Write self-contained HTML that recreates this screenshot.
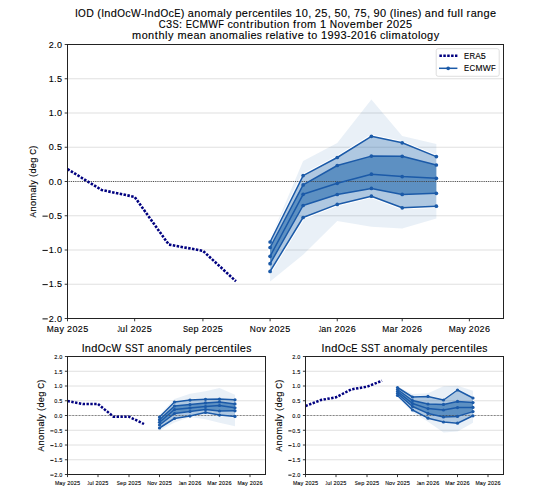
<!DOCTYPE html>
<html><head><meta charset="utf-8"><style>html,body{margin:0;padding:0;background:#fff;}svg{display:block;}</style></head><body>
<svg width="540" height="500" viewBox="0 0 540 500" font-family="Liberation Sans, sans-serif">
<rect width="540" height="500" fill="#fff"/>
<line x1="67.5" y1="78.75" x2="503.5" y2="78.75" stroke="#e0e0e0" stroke-width="1.2"/>
<line x1="67.5" y1="113.00" x2="503.5" y2="113.00" stroke="#e0e0e0" stroke-width="1.2"/>
<line x1="67.5" y1="147.25" x2="503.5" y2="147.25" stroke="#e0e0e0" stroke-width="1.2"/>
<line x1="67.5" y1="215.75" x2="503.5" y2="215.75" stroke="#e0e0e0" stroke-width="1.2"/>
<line x1="67.5" y1="250.00" x2="503.5" y2="250.00" stroke="#e0e0e0" stroke-width="1.2"/>
<line x1="67.5" y1="284.25" x2="503.5" y2="284.25" stroke="#e0e0e0" stroke-width="1.2"/>
<polygon points="270.09,239.50 303.12,161.00 337.25,143.00 371.38,99.40 402.21,136.10 436.34,143.90 436.34,218.40 402.21,228.40 371.38,226.70 337.25,220.90 303.12,254.80 270.09,281.50" fill="#1962aa" fill-opacity="0.095"/>
<mask id="m1" maskUnits="userSpaceOnUse" x="0" y="0" width="540" height="500"><rect width="540" height="500" fill="#fff"/><polygon points="270.09,242.00 303.12,175.60 337.25,157.50 371.38,136.30 402.21,142.80 436.34,156.60 436.34,206.20 402.21,207.80 371.38,196.20 337.25,204.40 303.12,217.50 270.09,271.40" fill="#000"/></mask>
<polygon points="270.09,242.00 303.12,175.60 337.25,157.50 371.38,136.30 402.21,142.80 436.34,156.60 436.34,206.20 402.21,207.80 371.38,196.20 337.25,204.40 303.12,217.50 270.09,271.40" fill="none" stroke="#fff" stroke-width="3.6" stroke-linejoin="round" mask="url(#m1)"/>
<polygon points="270.09,242.00 303.12,175.60 337.25,157.50 371.38,136.30 402.21,142.80 436.34,156.60 436.34,206.20 402.21,207.80 371.38,196.20 337.25,204.40 303.12,217.50 270.09,271.40" fill="#1962aa" fill-opacity="0.28"/>
<polygon points="270.09,247.50 303.12,184.90 337.25,165.50 371.38,156.10 402.21,156.30 436.34,165.00 436.34,193.30 402.21,194.40 371.38,188.40 337.25,194.50 303.12,205.50 270.09,263.70" fill="#1962aa" fill-opacity="0.55"/>
<line x1="67.5" y1="181.50" x2="503.5" y2="181.50" stroke="#444" stroke-width="1.0" stroke-dasharray="0.95 0.87"/>
<polyline points="270.09,242.00 303.12,175.60 337.25,157.50 371.38,136.30 402.21,142.80 436.34,156.60" fill="none" stroke="#1b5aa8" stroke-width="1.5" stroke-linejoin="round"/>
<circle cx="270.09" cy="242.00" r="1.85" fill="#1b5aa8"/>
<circle cx="303.12" cy="175.60" r="1.85" fill="#1b5aa8"/>
<circle cx="337.25" cy="157.50" r="1.85" fill="#1b5aa8"/>
<circle cx="371.38" cy="136.30" r="1.85" fill="#1b5aa8"/>
<circle cx="402.21" cy="142.80" r="1.85" fill="#1b5aa8"/>
<circle cx="436.34" cy="156.60" r="1.85" fill="#1b5aa8"/>
<polyline points="270.09,247.50 303.12,184.90 337.25,165.50 371.38,156.10 402.21,156.30 436.34,165.00" fill="none" stroke="#1b5aa8" stroke-width="1.5" stroke-linejoin="round"/>
<circle cx="270.09" cy="247.50" r="1.85" fill="#1b5aa8"/>
<circle cx="303.12" cy="184.90" r="1.85" fill="#1b5aa8"/>
<circle cx="337.25" cy="165.50" r="1.85" fill="#1b5aa8"/>
<circle cx="371.38" cy="156.10" r="1.85" fill="#1b5aa8"/>
<circle cx="402.21" cy="156.30" r="1.85" fill="#1b5aa8"/>
<circle cx="436.34" cy="165.00" r="1.85" fill="#1b5aa8"/>
<polyline points="270.09,256.30 303.12,194.30 337.25,183.30 371.38,174.20 402.21,176.60 436.34,178.30" fill="none" stroke="#1b5aa8" stroke-width="1.5" stroke-linejoin="round"/>
<circle cx="270.09" cy="256.30" r="1.85" fill="#1b5aa8"/>
<circle cx="303.12" cy="194.30" r="1.85" fill="#1b5aa8"/>
<circle cx="337.25" cy="183.30" r="1.85" fill="#1b5aa8"/>
<circle cx="371.38" cy="174.20" r="1.85" fill="#1b5aa8"/>
<circle cx="402.21" cy="176.60" r="1.85" fill="#1b5aa8"/>
<circle cx="436.34" cy="178.30" r="1.85" fill="#1b5aa8"/>
<polyline points="270.09,263.70 303.12,205.50 337.25,194.50 371.38,188.40 402.21,194.40 436.34,193.30" fill="none" stroke="#1b5aa8" stroke-width="1.5" stroke-linejoin="round"/>
<circle cx="270.09" cy="263.70" r="1.85" fill="#1b5aa8"/>
<circle cx="303.12" cy="205.50" r="1.85" fill="#1b5aa8"/>
<circle cx="337.25" cy="194.50" r="1.85" fill="#1b5aa8"/>
<circle cx="371.38" cy="188.40" r="1.85" fill="#1b5aa8"/>
<circle cx="402.21" cy="194.40" r="1.85" fill="#1b5aa8"/>
<circle cx="436.34" cy="193.30" r="1.85" fill="#1b5aa8"/>
<polyline points="270.09,271.40 303.12,217.50 337.25,204.40 371.38,196.20 402.21,207.80 436.34,206.20" fill="none" stroke="#1b5aa8" stroke-width="1.5" stroke-linejoin="round"/>
<circle cx="270.09" cy="271.40" r="1.85" fill="#1b5aa8"/>
<circle cx="303.12" cy="217.50" r="1.85" fill="#1b5aa8"/>
<circle cx="337.25" cy="204.40" r="1.85" fill="#1b5aa8"/>
<circle cx="371.38" cy="196.20" r="1.85" fill="#1b5aa8"/>
<circle cx="402.21" cy="207.80" r="1.85" fill="#1b5aa8"/>
<circle cx="436.34" cy="206.20" r="1.85" fill="#1b5aa8"/>
<polyline points="67.50,169.10 101.63,190.00 134.66,196.90 168.79,244.60 202.92,250.80 235.95,281.30" fill="none" stroke="#000080" stroke-width="2.6" stroke-dasharray="2.5 1.4" stroke-linejoin="round"/>
<rect x="67.5" y="44.5" width="436.0" height="274.0" fill="none" stroke="#222" stroke-width="1"/>
<line x1="64.7" y1="44.50" x2="67.5" y2="44.50" stroke="#222" stroke-width="0.9"/>
<text x="48.84 54.12 56.90" y="47.54" font-size="9.04" fill="#000" stroke="#000" stroke-width="0.12">2.0</text>
<line x1="64.7" y1="78.75" x2="67.5" y2="78.75" stroke="#222" stroke-width="0.9"/>
<text x="48.84 54.12 56.90" y="81.79" font-size="9.04" fill="#000" stroke="#000" stroke-width="0.12">1.5</text>
<line x1="64.7" y1="113.00" x2="67.5" y2="113.00" stroke="#222" stroke-width="0.9"/>
<text x="48.84 54.12 56.90" y="116.04" font-size="9.04" fill="#000" stroke="#000" stroke-width="0.12">1.0</text>
<line x1="64.7" y1="147.25" x2="67.5" y2="147.25" stroke="#222" stroke-width="0.9"/>
<text x="48.84 54.12 56.90" y="150.29" font-size="9.04" fill="#000" stroke="#000" stroke-width="0.12">0.5</text>
<line x1="64.7" y1="181.50" x2="67.5" y2="181.50" stroke="#222" stroke-width="0.9"/>
<text x="48.84 54.12 56.90" y="184.54" font-size="9.04" fill="#000" stroke="#000" stroke-width="0.12">0.0</text>
<line x1="64.7" y1="215.75" x2="67.5" y2="215.75" stroke="#222" stroke-width="0.9"/>
<rect x="42.48" y="215.66" width="5.28" height="0.95" fill="#000"/>
<text x="48.84 54.12 56.90" y="218.79" font-size="9.04" fill="#000" stroke="#000" stroke-width="0.12">0.5</text>
<line x1="64.7" y1="250.00" x2="67.5" y2="250.00" stroke="#222" stroke-width="0.9"/>
<rect x="42.48" y="249.91" width="5.28" height="0.95" fill="#000"/>
<text x="48.84 54.12 56.90" y="253.04" font-size="9.04" fill="#000" stroke="#000" stroke-width="0.12">1.0</text>
<line x1="64.7" y1="284.25" x2="67.5" y2="284.25" stroke="#222" stroke-width="0.9"/>
<rect x="42.48" y="284.16" width="5.28" height="0.95" fill="#000"/>
<text x="48.84 54.12 56.90" y="287.29" font-size="9.04" fill="#000" stroke="#000" stroke-width="0.12">1.5</text>
<line x1="64.7" y1="318.50" x2="67.5" y2="318.50" stroke="#222" stroke-width="0.9"/>
<rect x="42.48" y="318.41" width="5.28" height="0.95" fill="#000"/>
<text x="48.84 54.12 56.90" y="321.54" font-size="9.04" fill="#000" stroke="#000" stroke-width="0.12">2.0</text>
<line x1="67.50" y1="318.5" x2="67.50" y2="321.3" stroke="#222" stroke-width="0.9"/>
<text transform="translate(46.82 331.68) scale(0.929 1)" font-size="9.04" fill="#000" stroke="#000" stroke-width="0.12">M</text>
<text transform="translate(54.06 331.68) scale(0.989 1)" font-size="9.04" fill="#000" stroke="#000" stroke-width="0.12">a</text>
<text x="59.38 64.23 67.00 72.38 77.75 83.13" y="331.68" font-size="9.04" fill="#000" stroke="#000" stroke-width="0.12">y 2025</text>
<line x1="134.66" y1="318.5" x2="134.66" y2="321.3" stroke="#222" stroke-width="0.9"/>
<text transform="translate(117.52 331.68) scale(0.529 1)" font-size="9.04" fill="#000" stroke="#000" stroke-width="0.12">J</text>
<text x="120.12 125.49 127.75 130.52 135.90 141.28 146.65" y="331.68" font-size="9.04" fill="#000" stroke="#000" stroke-width="0.12">ul 2025</text>
<line x1="202.92" y1="318.5" x2="202.92" y2="321.3" stroke="#222" stroke-width="0.9"/>
<text transform="translate(182.97 331.68) scale(0.854 1)" font-size="9.04" fill="#000" stroke="#000" stroke-width="0.12">S</text>
<text transform="translate(188.33 331.68) scale(0.993 1)" font-size="9.04" fill="#000" stroke="#000" stroke-width="0.12">e</text>
<text x="193.60 198.88 201.65 207.03 212.40 217.78" y="331.68" font-size="9.04" fill="#000" stroke="#000" stroke-width="0.12">p 2025</text>
<line x1="270.09" y1="318.5" x2="270.09" y2="321.3" stroke="#222" stroke-width="0.9"/>
<text transform="translate(249.87 331.68) scale(0.929 1)" font-size="9.04" fill="#000" stroke="#000" stroke-width="0.12">N</text>
<text transform="translate(256.17 331.68) scale(0.987 1)" font-size="9.04" fill="#000" stroke="#000" stroke-width="0.12">o</text>
<text x="261.48 266.32 269.10 274.47 279.85 285.22" y="331.68" font-size="9.04" fill="#000" stroke="#000" stroke-width="0.12">v 2025</text>
<line x1="337.25" y1="318.5" x2="337.25" y2="321.3" stroke="#222" stroke-width="0.9"/>
<text transform="translate(318.69 331.68) scale(0.529 1)" font-size="9.04" fill="#000" stroke="#000" stroke-width="0.12">J</text>
<text transform="translate(321.23 331.68) scale(0.989 1)" font-size="9.04" fill="#000" stroke="#000" stroke-width="0.12">a</text>
<text x="326.47 331.75 334.52 339.90 345.28 350.65" y="331.68" font-size="9.04" fill="#000" stroke="#000" stroke-width="0.12">n 2026</text>
<line x1="402.21" y1="318.5" x2="402.21" y2="321.3" stroke="#222" stroke-width="0.9"/>
<text transform="translate(382.29 331.68) scale(0.929 1)" font-size="9.04" fill="#000" stroke="#000" stroke-width="0.12">M</text>
<text transform="translate(389.53 331.68) scale(0.989 1)" font-size="9.04" fill="#000" stroke="#000" stroke-width="0.12">a</text>
<text x="394.84 398.17 400.94 406.32 411.70 417.07" y="331.68" font-size="9.04" fill="#000" stroke="#000" stroke-width="0.12">r 2026</text>
<line x1="469.37" y1="318.5" x2="469.37" y2="321.3" stroke="#222" stroke-width="0.9"/>
<text transform="translate(448.68 331.68) scale(0.929 1)" font-size="9.04" fill="#000" stroke="#000" stroke-width="0.12">M</text>
<text transform="translate(455.93 331.68) scale(0.989 1)" font-size="9.04" fill="#000" stroke="#000" stroke-width="0.12">a</text>
<text x="461.25 466.10 468.87 474.24 479.62 485.00" y="331.68" font-size="9.04" fill="#000" stroke="#000" stroke-width="0.12">y 2026</text>
<text transform="translate(74.94 16.60) scale(0.952 1)" font-size="10.97" fill="#000" stroke="#000" stroke-width="0.12">I</text>
<text transform="translate(78.07 16.60) scale(0.908 1)" font-size="10.97" fill="#000" stroke="#000" stroke-width="0.12">O</text>
<text transform="translate(86.13 16.60) scale(0.957 1)" font-size="10.97" fill="#000" stroke="#000" stroke-width="0.12">D</text>
<text transform="translate(101.18 16.60) scale(0.952 1)" font-size="10.97" fill="#000" stroke="#000" stroke-width="0.12">I</text>
<text transform="translate(117.31 16.60) scale(0.908 1)" font-size="10.97" fill="#000" stroke="#000" stroke-width="0.12">O</text>
<text transform="translate(125.33 16.60) scale(0.987 1)" font-size="10.97" fill="#000" stroke="#000" stroke-width="0.12">c</text>
<text transform="translate(131.06 16.60) scale(0.940 1)" font-size="10.97" fill="#000" stroke="#000" stroke-width="0.12">W</text>
<text transform="translate(141.06 16.60) scale(0.972 1)" font-size="10.97" fill="#000" stroke="#000" stroke-width="0.12">-</text>
<text transform="translate(144.33 16.60) scale(0.952 1)" font-size="10.97" fill="#000" stroke="#000" stroke-width="0.12">I</text>
<text transform="translate(160.46 16.60) scale(0.908 1)" font-size="10.97" fill="#000" stroke="#000" stroke-width="0.12">O</text>
<text transform="translate(168.48 16.60) scale(0.987 1)" font-size="10.97" fill="#000" stroke="#000" stroke-width="0.12">c</text>
<text transform="translate(174.13 16.60) scale(0.850 1)" font-size="10.97" fill="#000" stroke="#000" stroke-width="0.12">E</text>
<text transform="translate(187.86 16.60) scale(0.989 1)" font-size="10.97" fill="#000" stroke="#000" stroke-width="0.12">a</text>
<text transform="translate(200.64 16.60) scale(0.987 1)" font-size="10.97" fill="#000" stroke="#000" stroke-width="0.12">o</text>
<text transform="translate(216.89 16.60) scale(0.989 1)" font-size="10.97" fill="#000" stroke="#000" stroke-width="0.12">a</text>
<text transform="translate(241.85 16.60) scale(0.993 1)" font-size="10.97" fill="#000" stroke="#000" stroke-width="0.12">e</text>
<text transform="translate(252.36 16.60) scale(0.987 1)" font-size="10.97" fill="#000" stroke="#000" stroke-width="0.12">c</text>
<text transform="translate(257.78 16.60) scale(0.993 1)" font-size="10.97" fill="#000" stroke="#000" stroke-width="0.12">e</text>
<text transform="translate(280.30 16.60) scale(0.993 1)" font-size="10.97" fill="#000" stroke="#000" stroke-width="0.12">e</text>
<text transform="translate(286.59 16.60) scale(0.935 1)" font-size="10.97" fill="#000" stroke="#000" stroke-width="0.12">s</text>
<text transform="translate(405.93 16.60) scale(0.993 1)" font-size="10.97" fill="#000" stroke="#000" stroke-width="0.12">e</text>
<text transform="translate(412.22 16.60) scale(0.935 1)" font-size="10.97" fill="#000" stroke="#000" stroke-width="0.12">s</text>
<text transform="translate(424.84 16.60) scale(0.989 1)" font-size="10.97" fill="#000" stroke="#000" stroke-width="0.12">a</text>
<text transform="translate(470.65 16.60) scale(0.989 1)" font-size="10.97" fill="#000" stroke="#000" stroke-width="0.12">a</text>
<text transform="translate(489.94 16.60) scale(0.993 1)" font-size="10.97" fill="#000" stroke="#000" stroke-width="0.12">e</text>
<text x="93.97 97.30 104.35 110.85 147.49 153.99 180.65 184.58 194.21 207.21 223.25 226.19 232.07 235.42 248.31 264.16 270.95 274.68 277.53 291.93 295.29 301.81 308.23 311.49 314.85 321.37 327.79 331.05 334.41 340.93 347.35 350.60 353.97 360.49 366.91 370.16 373.53 380.05 386.46 389.79 393.82 396.67 399.51 417.63 421.56 431.19 437.69 444.10 447.53 451.06 457.56 460.41 463.16 466.59 477.01 483.51" y="16.60" font-size="10.97" fill="#000" stroke="#000" stroke-width="0.12"> (ndnd) nmly prntil 10, 25, 50, 75, 90 (lin) nd full rng</text>
<text transform="translate(158.84 27.80) scale(0.867 1)" font-size="10.97" fill="#000" stroke="#000" stroke-width="0.12">C</text>
<text transform="translate(172.51 27.80) scale(0.854 1)" font-size="10.97" fill="#000" stroke="#000" stroke-width="0.12">S</text>
<text transform="translate(185.73 27.80) scale(0.850 1)" font-size="10.97" fill="#000" stroke="#000" stroke-width="0.12">E</text>
<text transform="translate(192.22 27.80) scale(0.867 1)" font-size="10.97" fill="#000" stroke="#000" stroke-width="0.12">C</text>
<text transform="translate(199.41 27.80) scale(0.929 1)" font-size="10.97" fill="#000" stroke="#000" stroke-width="0.12">M</text>
<text transform="translate(208.28 27.80) scale(0.940 1)" font-size="10.97" fill="#000" stroke="#000" stroke-width="0.12">W</text>
<text transform="translate(218.33 27.80) scale(0.845 1)" font-size="10.97" fill="#000" stroke="#000" stroke-width="0.12">F</text>
<text transform="translate(227.48 27.80) scale(0.987 1)" font-size="10.97" fill="#000" stroke="#000" stroke-width="0.12">c</text>
<text transform="translate(233.12 27.80) scale(0.987 1)" font-size="10.97" fill="#000" stroke="#000" stroke-width="0.12">o</text>
<text transform="translate(276.84 27.80) scale(0.987 1)" font-size="10.97" fill="#000" stroke="#000" stroke-width="0.12">o</text>
<text transform="translate(300.69 27.80) scale(0.987 1)" font-size="10.97" fill="#000" stroke="#000" stroke-width="0.12">o</text>
<text transform="translate(329.79 27.80) scale(0.929 1)" font-size="10.97" fill="#000" stroke="#000" stroke-width="0.12">N</text>
<text transform="translate(337.43 27.80) scale(0.987 1)" font-size="10.97" fill="#000" stroke="#000" stroke-width="0.12">o</text>
<text transform="translate(349.76 27.80) scale(0.993 1)" font-size="10.97" fill="#000" stroke="#000" stroke-width="0.12">e</text>
<text transform="translate(372.56 27.80) scale(0.993 1)" font-size="10.97" fill="#000" stroke="#000" stroke-width="0.12">e</text>
<text x="166.07 179.09 182.44 224.21 239.47 246.25 250.07 254.20 257.05 263.55 270.34 274.07 283.19 289.59 293.02 296.63 307.04 316.70 320.06 326.48 343.86 356.37 366.13 379.02 383.06 386.42 392.95 399.47 405.99" y="27.80" font-size="10.97" fill="#000" stroke="#000" stroke-width="0.12">3:  ntributin frm 1 vmbr 2025</text>
<text transform="translate(141.68 39.00) scale(0.987 1)" font-size="10.97" fill="#000" stroke="#000" stroke-width="0.12">o</text>
<text transform="translate(187.12 39.00) scale(0.993 1)" font-size="10.97" fill="#000" stroke="#000" stroke-width="0.12">e</text>
<text transform="translate(193.43 39.00) scale(0.989 1)" font-size="10.97" fill="#000" stroke="#000" stroke-width="0.12">a</text>
<text transform="translate(209.46 39.00) scale(0.989 1)" font-size="10.97" fill="#000" stroke="#000" stroke-width="0.12">a</text>
<text transform="translate(222.24 39.00) scale(0.987 1)" font-size="10.97" fill="#000" stroke="#000" stroke-width="0.12">o</text>
<text transform="translate(238.50 39.00) scale(0.989 1)" font-size="10.97" fill="#000" stroke="#000" stroke-width="0.12">a</text>
<text transform="translate(250.47 39.00) scale(0.993 1)" font-size="10.97" fill="#000" stroke="#000" stroke-width="0.12">e</text>
<text transform="translate(256.76 39.00) scale(0.935 1)" font-size="10.97" fill="#000" stroke="#000" stroke-width="0.12">s</text>
<text transform="translate(269.59 39.00) scale(0.993 1)" font-size="10.97" fill="#000" stroke="#000" stroke-width="0.12">e</text>
<text transform="translate(278.52 39.00) scale(0.989 1)" font-size="10.97" fill="#000" stroke="#000" stroke-width="0.12">a</text>
<text transform="translate(297.74 39.00) scale(0.993 1)" font-size="10.97" fill="#000" stroke="#000" stroke-width="0.12">e</text>
<text transform="translate(311.32 39.00) scale(0.987 1)" font-size="10.97" fill="#000" stroke="#000" stroke-width="0.12">o</text>
<text transform="translate(346.88 39.00) scale(0.972 1)" font-size="10.97" fill="#000" stroke="#000" stroke-width="0.12">-</text>
<text transform="translate(379.96 39.00) scale(0.987 1)" font-size="10.97" fill="#000" stroke="#000" stroke-width="0.12">c</text>
<text transform="translate(401.29 39.00) scale(0.989 1)" font-size="10.97" fill="#000" stroke="#000" stroke-width="0.12">a</text>
<text transform="translate(411.59 39.00) scale(0.987 1)" font-size="10.97" fill="#000" stroke="#000" stroke-width="0.12">o</text>
<text transform="translate(420.71 39.00) scale(0.987 1)" font-size="10.97" fill="#000" stroke="#000" stroke-width="0.12">o</text>
<text x="132.00 148.03 154.81 158.54 165.04 167.98 173.86 177.44 199.78 206.19 215.82 228.81 244.86 247.71 262.10 265.53 275.75 285.16 288.90 291.83 304.02 307.66 317.57 320.93 327.45 333.98 340.50 350.72 357.24 363.76 370.28 376.70 385.69 388.54 391.61 407.93 417.94 427.06 433.65" y="39.00" font-size="10.97" fill="#000" stroke="#000" stroke-width="0.12">mnthly mn nmli rltiv t 19932016 limtlgy</text>
<g transform="rotate(-90 35.7 181.5)"><text transform="translate(-0.24 181.50) scale(0.920 1)" font-size="9.20" fill="#000" stroke="#000" stroke-width="0.12">A</text><text transform="translate(11.08 181.50) scale(0.987 1)" font-size="9.20" fill="#000" stroke="#000" stroke-width="0.12">o</text><text transform="translate(24.72 181.50) scale(0.989 1)" font-size="9.20" fill="#000" stroke="#000" stroke-width="0.12">a</text><text transform="translate(49.02 181.50) scale(0.993 1)" font-size="9.20" fill="#000" stroke="#000" stroke-width="0.12">e</text><text transform="translate(62.52 181.50) scale(0.867 1)" font-size="9.20" fill="#000" stroke="#000" stroke-width="0.12">C</text><text x="5.69 16.59 30.06 32.52 37.45 40.24 43.62 54.37 59.75 68.55" y="181.50" font-size="9.20" fill="#000" stroke="#000" stroke-width="0.12">nmly (dg )</text></g>
<rect x="436.2" y="48.7" width="63" height="27.6" rx="2" ry="2" fill="#fff" fill-opacity="0.8" stroke="#d6d6d6" stroke-width="0.8"/>
<line x1="439.4" y1="55.8" x2="457.4" y2="55.8" stroke="#000080" stroke-width="2.6" stroke-dasharray="2.5 1.4"/>
<line x1="439.0" y1="68.3" x2="457.4" y2="68.3" stroke="#1b5aa8" stroke-width="1.5"/>
<circle cx="448.2" cy="68.3" r="1.85" fill="#1b5aa8"/>
<text transform="translate(464.11 58.50) scale(0.850 1)" font-size="9.04" fill="#000" stroke="#000" stroke-width="0.12">E</text>
<text transform="translate(469.46 58.50) scale(0.863 1)" font-size="9.04" fill="#000" stroke="#000" stroke-width="0.12">R</text>
<text transform="translate(475.33 58.50) scale(0.920 1)" font-size="9.04" fill="#000" stroke="#000" stroke-width="0.12">A</text>
<text x="480.82" y="58.50" font-size="9.04" fill="#000" stroke="#000" stroke-width="0.12">5</text>
<text transform="translate(464.11 71.10) scale(0.850 1)" font-size="9.04" fill="#000" stroke="#000" stroke-width="0.12">E</text>
<text transform="translate(469.46 71.10) scale(0.867 1)" font-size="9.04" fill="#000" stroke="#000" stroke-width="0.12">C</text>
<text transform="translate(475.39 71.10) scale(0.929 1)" font-size="9.04" fill="#000" stroke="#000" stroke-width="0.12">M</text>
<text transform="translate(482.70 71.10) scale(0.940 1)" font-size="9.04" fill="#000" stroke="#000" stroke-width="0.12">W</text>
<text transform="translate(490.98 71.10) scale(0.845 1)" font-size="9.04" fill="#000" stroke="#000" stroke-width="0.12">F</text>
<line x1="67.5" y1="371.25" x2="265.5" y2="371.25" stroke="#e0e0e0" stroke-width="1.0"/>
<line x1="67.5" y1="386.00" x2="265.5" y2="386.00" stroke="#e0e0e0" stroke-width="1.0"/>
<line x1="67.5" y1="400.75" x2="265.5" y2="400.75" stroke="#e0e0e0" stroke-width="1.0"/>
<line x1="67.5" y1="430.25" x2="265.5" y2="430.25" stroke="#e0e0e0" stroke-width="1.0"/>
<line x1="67.5" y1="445.00" x2="265.5" y2="445.00" stroke="#e0e0e0" stroke-width="1.0"/>
<line x1="67.5" y1="459.75" x2="265.5" y2="459.75" stroke="#e0e0e0" stroke-width="1.0"/>
<polygon points="159.50,415.00 174.50,399.00 190.00,393.70 205.50,391.20 219.50,388.10 235.00,394.70 235.00,426.30 219.50,422.70 205.50,419.20 190.00,417.10 174.50,422.50 159.50,430.50" fill="#1962aa" fill-opacity="0.095"/>
<mask id="m2" maskUnits="userSpaceOnUse" x="0" y="0" width="540" height="500"><rect width="540" height="500" fill="#fff"/><polygon points="159.50,417.00 174.50,402.00 190.00,400.10 205.50,399.30 219.50,399.10 235.00,399.80 235.00,416.40 219.50,415.10 205.50,412.50 190.00,416.10 174.50,418.50 159.50,428.00" fill="#000"/></mask>
<polygon points="159.50,417.00 174.50,402.00 190.00,400.10 205.50,399.30 219.50,399.10 235.00,399.80 235.00,416.40 219.50,415.10 205.50,412.50 190.00,416.10 174.50,418.50 159.50,428.00" fill="none" stroke="#fff" stroke-width="2.2" stroke-linejoin="round" mask="url(#m2)"/>
<polygon points="159.50,417.00 174.50,402.00 190.00,400.10 205.50,399.30 219.50,399.10 235.00,399.80 235.00,416.40 219.50,415.10 205.50,412.50 190.00,416.10 174.50,418.50 159.50,428.00" fill="#1962aa" fill-opacity="0.28"/>
<polygon points="159.50,419.70 174.50,406.00 190.00,404.60 205.50,402.90 219.50,401.90 235.00,403.90 235.00,410.80 219.50,411.00 205.50,409.50 190.00,411.50 174.50,413.50 159.50,425.00" fill="#1962aa" fill-opacity="0.55"/>
<line x1="67.5" y1="415.50" x2="265.5" y2="415.50" stroke="#333" stroke-width="0.8" stroke-dasharray="0.75 0.7"/>
<polyline points="159.50,417.00 174.50,402.00 190.00,400.10 205.50,399.30 219.50,399.10 235.00,399.80" fill="none" stroke="#1b5aa8" stroke-width="1.5" stroke-linejoin="round"/>
<circle cx="159.50" cy="417.00" r="1.6" fill="#1b5aa8"/>
<circle cx="174.50" cy="402.00" r="1.6" fill="#1b5aa8"/>
<circle cx="190.00" cy="400.10" r="1.6" fill="#1b5aa8"/>
<circle cx="205.50" cy="399.30" r="1.6" fill="#1b5aa8"/>
<circle cx="219.50" cy="399.10" r="1.6" fill="#1b5aa8"/>
<circle cx="235.00" cy="399.80" r="1.6" fill="#1b5aa8"/>
<polyline points="159.50,419.70 174.50,406.00 190.00,404.60 205.50,402.90 219.50,401.90 235.00,403.90" fill="none" stroke="#1b5aa8" stroke-width="1.5" stroke-linejoin="round"/>
<circle cx="159.50" cy="419.70" r="1.6" fill="#1b5aa8"/>
<circle cx="174.50" cy="406.00" r="1.6" fill="#1b5aa8"/>
<circle cx="190.00" cy="404.60" r="1.6" fill="#1b5aa8"/>
<circle cx="205.50" cy="402.90" r="1.6" fill="#1b5aa8"/>
<circle cx="219.50" cy="401.90" r="1.6" fill="#1b5aa8"/>
<circle cx="235.00" cy="403.90" r="1.6" fill="#1b5aa8"/>
<polyline points="159.50,422.30 174.50,409.50 190.00,408.00 205.50,406.50 219.50,405.50 235.00,407.80" fill="none" stroke="#1b5aa8" stroke-width="1.5" stroke-linejoin="round"/>
<circle cx="159.50" cy="422.30" r="1.6" fill="#1b5aa8"/>
<circle cx="174.50" cy="409.50" r="1.6" fill="#1b5aa8"/>
<circle cx="190.00" cy="408.00" r="1.6" fill="#1b5aa8"/>
<circle cx="205.50" cy="406.50" r="1.6" fill="#1b5aa8"/>
<circle cx="219.50" cy="405.50" r="1.6" fill="#1b5aa8"/>
<circle cx="235.00" cy="407.80" r="1.6" fill="#1b5aa8"/>
<polyline points="159.50,425.00 174.50,413.50 190.00,411.50 205.50,409.50 219.50,411.00 235.00,410.80" fill="none" stroke="#1b5aa8" stroke-width="1.5" stroke-linejoin="round"/>
<circle cx="159.50" cy="425.00" r="1.6" fill="#1b5aa8"/>
<circle cx="174.50" cy="413.50" r="1.6" fill="#1b5aa8"/>
<circle cx="190.00" cy="411.50" r="1.6" fill="#1b5aa8"/>
<circle cx="205.50" cy="409.50" r="1.6" fill="#1b5aa8"/>
<circle cx="219.50" cy="411.00" r="1.6" fill="#1b5aa8"/>
<circle cx="235.00" cy="410.80" r="1.6" fill="#1b5aa8"/>
<polyline points="159.50,428.00 174.50,418.50 190.00,416.10 205.50,412.50 219.50,415.10 235.00,416.40" fill="none" stroke="#1b5aa8" stroke-width="1.5" stroke-linejoin="round"/>
<circle cx="159.50" cy="428.00" r="1.6" fill="#1b5aa8"/>
<circle cx="174.50" cy="418.50" r="1.6" fill="#1b5aa8"/>
<circle cx="190.00" cy="416.10" r="1.6" fill="#1b5aa8"/>
<circle cx="205.50" cy="412.50" r="1.6" fill="#1b5aa8"/>
<circle cx="219.50" cy="415.10" r="1.6" fill="#1b5aa8"/>
<circle cx="235.00" cy="416.40" r="1.6" fill="#1b5aa8"/>
<polyline points="67.50,401.10 83.00,404.00 98.00,404.00 113.50,416.70 129.00,416.70 144.00,424.00" fill="none" stroke="#000080" stroke-width="2.5" stroke-dasharray="2.4 1.45" stroke-linejoin="round"/>
<rect x="67.5" y="356.5" width="198.0" height="118.0" fill="none" stroke="#222" stroke-width="1"/>
<line x1="64.9" y1="356.50" x2="67.5" y2="356.50" stroke="#222" stroke-width="0.9"/>
<text x="54.22 57.44 59.13" y="358.75" font-size="5.51" fill="#000" stroke="#000" stroke-width="0.1">2.0</text>
<line x1="64.9" y1="371.25" x2="67.5" y2="371.25" stroke="#222" stroke-width="0.9"/>
<text x="54.22 57.44 59.13" y="373.50" font-size="5.51" fill="#000" stroke="#000" stroke-width="0.1">1.5</text>
<line x1="64.9" y1="386.00" x2="67.5" y2="386.00" stroke="#222" stroke-width="0.9"/>
<text x="54.22 57.44 59.13" y="388.25" font-size="5.51" fill="#000" stroke="#000" stroke-width="0.1">1.0</text>
<line x1="64.9" y1="400.75" x2="67.5" y2="400.75" stroke="#222" stroke-width="0.9"/>
<text x="54.22 57.44 59.13" y="403.00" font-size="5.51" fill="#000" stroke="#000" stroke-width="0.1">0.5</text>
<line x1="64.9" y1="415.50" x2="67.5" y2="415.50" stroke="#222" stroke-width="0.9"/>
<text x="54.22 57.44 59.13" y="417.75" font-size="5.51" fill="#000" stroke="#000" stroke-width="0.1">0.0</text>
<line x1="64.9" y1="430.25" x2="67.5" y2="430.25" stroke="#222" stroke-width="0.9"/>
<rect x="50.34" y="430.41" width="3.22" height="0.95" fill="#000"/>
<text x="54.22 57.44 59.13" y="432.50" font-size="5.51" fill="#000" stroke="#000" stroke-width="0.1">0.5</text>
<line x1="64.9" y1="445.00" x2="67.5" y2="445.00" stroke="#222" stroke-width="0.9"/>
<rect x="50.34" y="445.16" width="3.22" height="0.95" fill="#000"/>
<text x="54.22 57.44 59.13" y="447.25" font-size="5.51" fill="#000" stroke="#000" stroke-width="0.1">1.0</text>
<line x1="64.9" y1="459.75" x2="67.5" y2="459.75" stroke="#222" stroke-width="0.9"/>
<rect x="50.34" y="459.91" width="3.22" height="0.95" fill="#000"/>
<text x="54.22 57.44 59.13" y="462.00" font-size="5.51" fill="#000" stroke="#000" stroke-width="0.1">1.5</text>
<line x1="64.9" y1="474.50" x2="67.5" y2="474.50" stroke="#222" stroke-width="0.9"/>
<rect x="50.34" y="474.66" width="3.22" height="0.95" fill="#000"/>
<text x="54.22 57.44 59.13" y="476.75" font-size="5.51" fill="#000" stroke="#000" stroke-width="0.1">2.0</text>
<line x1="67.50" y1="474.5" x2="67.50" y2="477.1" stroke="#222" stroke-width="0.9"/>
<text transform="translate(54.89 484.85) scale(0.929 1)" font-size="5.51" fill="#000" stroke="#000" stroke-width="0.1">M</text>
<text transform="translate(59.31 484.85) scale(0.989 1)" font-size="5.51" fill="#000" stroke="#000" stroke-width="0.1">a</text>
<text x="62.55 65.50 67.19 70.47 73.75 77.02" y="484.85" font-size="5.51" fill="#000" stroke="#000" stroke-width="0.1">y 2025</text>
<line x1="98.00" y1="474.5" x2="98.00" y2="477.1" stroke="#222" stroke-width="0.9"/>
<text transform="translate(87.55 484.85) scale(0.529 1)" font-size="5.51" fill="#000" stroke="#000" stroke-width="0.1">J</text>
<text x="89.14 92.41 93.79 95.48 98.75 102.03 105.31" y="484.85" font-size="5.51" fill="#000" stroke="#000" stroke-width="0.1">ul 2025</text>
<line x1="129.00" y1="474.5" x2="129.00" y2="477.1" stroke="#222" stroke-width="0.9"/>
<text transform="translate(116.84 484.85) scale(0.854 1)" font-size="5.51" fill="#000" stroke="#000" stroke-width="0.1">S</text>
<text transform="translate(120.11 484.85) scale(0.993 1)" font-size="5.51" fill="#000" stroke="#000" stroke-width="0.1">e</text>
<text x="123.31 126.53 128.22 131.50 134.78 138.05" y="484.85" font-size="5.51" fill="#000" stroke="#000" stroke-width="0.1">p 2025</text>
<line x1="159.50" y1="474.5" x2="159.50" y2="477.1" stroke="#222" stroke-width="0.9"/>
<text transform="translate(147.18 484.85) scale(0.929 1)" font-size="5.51" fill="#000" stroke="#000" stroke-width="0.1">N</text>
<text transform="translate(151.02 484.85) scale(0.987 1)" font-size="5.51" fill="#000" stroke="#000" stroke-width="0.1">o</text>
<text x="154.25 157.21 158.90 162.17 165.45 168.73" y="484.85" font-size="5.51" fill="#000" stroke="#000" stroke-width="0.1">v 2025</text>
<line x1="190.00" y1="474.5" x2="190.00" y2="477.1" stroke="#222" stroke-width="0.9"/>
<text transform="translate(178.69 484.85) scale(0.529 1)" font-size="5.51" fill="#000" stroke="#000" stroke-width="0.1">J</text>
<text transform="translate(180.24 484.85) scale(0.989 1)" font-size="5.51" fill="#000" stroke="#000" stroke-width="0.1">a</text>
<text x="183.43 186.65 188.34 191.62 194.89 198.17" y="484.85" font-size="5.51" fill="#000" stroke="#000" stroke-width="0.1">n 2026</text>
<line x1="219.50" y1="474.5" x2="219.50" y2="477.1" stroke="#222" stroke-width="0.9"/>
<text transform="translate(207.36 484.85) scale(0.929 1)" font-size="5.51" fill="#000" stroke="#000" stroke-width="0.1">M</text>
<text transform="translate(211.78 484.85) scale(0.989 1)" font-size="5.51" fill="#000" stroke="#000" stroke-width="0.1">a</text>
<text x="215.01 217.04 218.73 222.01 225.28 228.56" y="484.85" font-size="5.51" fill="#000" stroke="#000" stroke-width="0.1">r 2026</text>
<line x1="250.00" y1="474.5" x2="250.00" y2="477.1" stroke="#222" stroke-width="0.9"/>
<text transform="translate(237.39 484.85) scale(0.929 1)" font-size="5.51" fill="#000" stroke="#000" stroke-width="0.1">M</text>
<text transform="translate(241.81 484.85) scale(0.989 1)" font-size="5.51" fill="#000" stroke="#000" stroke-width="0.1">a</text>
<text x="245.05 248.00 249.69 252.97 256.25 259.52" y="484.85" font-size="5.51" fill="#000" stroke="#000" stroke-width="0.1">y 2026</text>
<line x1="305.5" y1="371.25" x2="503.5" y2="371.25" stroke="#e0e0e0" stroke-width="1.0"/>
<line x1="305.5" y1="386.00" x2="503.5" y2="386.00" stroke="#e0e0e0" stroke-width="1.0"/>
<line x1="305.5" y1="400.75" x2="503.5" y2="400.75" stroke="#e0e0e0" stroke-width="1.0"/>
<line x1="305.5" y1="430.25" x2="503.5" y2="430.25" stroke="#e0e0e0" stroke-width="1.0"/>
<line x1="305.5" y1="445.00" x2="503.5" y2="445.00" stroke="#e0e0e0" stroke-width="1.0"/>
<line x1="305.5" y1="459.75" x2="503.5" y2="459.75" stroke="#e0e0e0" stroke-width="1.0"/>
<polygon points="397.50,386.50 412.50,394.00 428.00,393.20 443.50,386.20 457.50,385.80 473.00,390.80 473.00,422.80 457.50,431.50 443.50,432.50 428.00,421.80 412.50,412.50 397.50,397.00" fill="#1962aa" fill-opacity="0.095"/>
<mask id="m3" maskUnits="userSpaceOnUse" x="0" y="0" width="540" height="500"><rect width="540" height="500" fill="#fff"/><polygon points="397.50,387.50 412.50,397.00 428.00,396.40 443.50,400.00 457.50,390.00 473.00,398.00 473.00,415.80 457.50,423.20 443.50,422.00 428.00,418.20 412.50,410.00 397.50,395.50" fill="#000"/></mask>
<polygon points="397.50,387.50 412.50,397.00 428.00,396.40 443.50,400.00 457.50,390.00 473.00,398.00 473.00,415.80 457.50,423.20 443.50,422.00 428.00,418.20 412.50,410.00 397.50,395.50" fill="none" stroke="#fff" stroke-width="2.2" stroke-linejoin="round" mask="url(#m3)"/>
<polygon points="397.50,387.50 412.50,397.00 428.00,396.40 443.50,400.00 457.50,390.00 473.00,398.00 473.00,415.80 457.50,423.20 443.50,422.00 428.00,418.20 412.50,410.00 397.50,395.50" fill="#1962aa" fill-opacity="0.28"/>
<polygon points="397.50,389.50 412.50,400.50 428.00,404.00 443.50,404.40 457.50,401.40 473.00,402.60 473.00,411.60 457.50,416.40 443.50,417.00 428.00,413.40 412.50,406.50 397.50,393.50" fill="#1962aa" fill-opacity="0.55"/>
<line x1="305.5" y1="415.50" x2="503.5" y2="415.50" stroke="#333" stroke-width="0.8" stroke-dasharray="0.75 0.7"/>
<polyline points="397.50,387.50 412.50,397.00 428.00,396.40 443.50,400.00 457.50,390.00 473.00,398.00" fill="none" stroke="#1b5aa8" stroke-width="1.5" stroke-linejoin="round"/>
<circle cx="397.50" cy="387.50" r="1.6" fill="#1b5aa8"/>
<circle cx="412.50" cy="397.00" r="1.6" fill="#1b5aa8"/>
<circle cx="428.00" cy="396.40" r="1.6" fill="#1b5aa8"/>
<circle cx="443.50" cy="400.00" r="1.6" fill="#1b5aa8"/>
<circle cx="457.50" cy="390.00" r="1.6" fill="#1b5aa8"/>
<circle cx="473.00" cy="398.00" r="1.6" fill="#1b5aa8"/>
<polyline points="397.50,389.50 412.50,400.50 428.00,404.00 443.50,404.40 457.50,401.40 473.00,402.60" fill="none" stroke="#1b5aa8" stroke-width="1.5" stroke-linejoin="round"/>
<circle cx="397.50" cy="389.50" r="1.6" fill="#1b5aa8"/>
<circle cx="412.50" cy="400.50" r="1.6" fill="#1b5aa8"/>
<circle cx="428.00" cy="404.00" r="1.6" fill="#1b5aa8"/>
<circle cx="443.50" cy="404.40" r="1.6" fill="#1b5aa8"/>
<circle cx="457.50" cy="401.40" r="1.6" fill="#1b5aa8"/>
<circle cx="473.00" cy="402.60" r="1.6" fill="#1b5aa8"/>
<polyline points="397.50,391.50 412.50,403.50 428.00,408.60 443.50,410.00 457.50,407.60 473.00,407.40" fill="none" stroke="#1b5aa8" stroke-width="1.5" stroke-linejoin="round"/>
<circle cx="397.50" cy="391.50" r="1.6" fill="#1b5aa8"/>
<circle cx="412.50" cy="403.50" r="1.6" fill="#1b5aa8"/>
<circle cx="428.00" cy="408.60" r="1.6" fill="#1b5aa8"/>
<circle cx="443.50" cy="410.00" r="1.6" fill="#1b5aa8"/>
<circle cx="457.50" cy="407.60" r="1.6" fill="#1b5aa8"/>
<circle cx="473.00" cy="407.40" r="1.6" fill="#1b5aa8"/>
<polyline points="397.50,393.50 412.50,406.50 428.00,413.40 443.50,417.00 457.50,416.40 473.00,411.60" fill="none" stroke="#1b5aa8" stroke-width="1.5" stroke-linejoin="round"/>
<circle cx="397.50" cy="393.50" r="1.6" fill="#1b5aa8"/>
<circle cx="412.50" cy="406.50" r="1.6" fill="#1b5aa8"/>
<circle cx="428.00" cy="413.40" r="1.6" fill="#1b5aa8"/>
<circle cx="443.50" cy="417.00" r="1.6" fill="#1b5aa8"/>
<circle cx="457.50" cy="416.40" r="1.6" fill="#1b5aa8"/>
<circle cx="473.00" cy="411.60" r="1.6" fill="#1b5aa8"/>
<polyline points="397.50,395.50 412.50,410.00 428.00,418.20 443.50,422.00 457.50,423.20 473.00,415.80" fill="none" stroke="#1b5aa8" stroke-width="1.5" stroke-linejoin="round"/>
<circle cx="397.50" cy="395.50" r="1.6" fill="#1b5aa8"/>
<circle cx="412.50" cy="410.00" r="1.6" fill="#1b5aa8"/>
<circle cx="428.00" cy="418.20" r="1.6" fill="#1b5aa8"/>
<circle cx="443.50" cy="422.00" r="1.6" fill="#1b5aa8"/>
<circle cx="457.50" cy="423.20" r="1.6" fill="#1b5aa8"/>
<circle cx="473.00" cy="415.80" r="1.6" fill="#1b5aa8"/>
<polyline points="305.50,406.00 321.00,400.00 336.00,397.30 351.50,389.30 367.00,386.70 382.00,380.70" fill="none" stroke="#000080" stroke-width="2.5" stroke-dasharray="2.4 1.45" stroke-linejoin="round"/>
<rect x="305.5" y="356.5" width="198.0" height="118.0" fill="none" stroke="#222" stroke-width="1"/>
<line x1="302.9" y1="356.50" x2="305.5" y2="356.50" stroke="#222" stroke-width="0.9"/>
<text x="292.22 295.44 297.13" y="358.75" font-size="5.51" fill="#000" stroke="#000" stroke-width="0.1">2.0</text>
<line x1="302.9" y1="371.25" x2="305.5" y2="371.25" stroke="#222" stroke-width="0.9"/>
<text x="292.22 295.44 297.13" y="373.50" font-size="5.51" fill="#000" stroke="#000" stroke-width="0.1">1.5</text>
<line x1="302.9" y1="386.00" x2="305.5" y2="386.00" stroke="#222" stroke-width="0.9"/>
<text x="292.22 295.44 297.13" y="388.25" font-size="5.51" fill="#000" stroke="#000" stroke-width="0.1">1.0</text>
<line x1="302.9" y1="400.75" x2="305.5" y2="400.75" stroke="#222" stroke-width="0.9"/>
<text x="292.22 295.44 297.13" y="403.00" font-size="5.51" fill="#000" stroke="#000" stroke-width="0.1">0.5</text>
<line x1="302.9" y1="415.50" x2="305.5" y2="415.50" stroke="#222" stroke-width="0.9"/>
<text x="292.22 295.44 297.13" y="417.75" font-size="5.51" fill="#000" stroke="#000" stroke-width="0.1">0.0</text>
<line x1="302.9" y1="430.25" x2="305.5" y2="430.25" stroke="#222" stroke-width="0.9"/>
<rect x="288.34" y="430.41" width="3.22" height="0.95" fill="#000"/>
<text x="292.22 295.44 297.13" y="432.50" font-size="5.51" fill="#000" stroke="#000" stroke-width="0.1">0.5</text>
<line x1="302.9" y1="445.00" x2="305.5" y2="445.00" stroke="#222" stroke-width="0.9"/>
<rect x="288.34" y="445.16" width="3.22" height="0.95" fill="#000"/>
<text x="292.22 295.44 297.13" y="447.25" font-size="5.51" fill="#000" stroke="#000" stroke-width="0.1">1.0</text>
<line x1="302.9" y1="459.75" x2="305.5" y2="459.75" stroke="#222" stroke-width="0.9"/>
<rect x="288.34" y="459.91" width="3.22" height="0.95" fill="#000"/>
<text x="292.22 295.44 297.13" y="462.00" font-size="5.51" fill="#000" stroke="#000" stroke-width="0.1">1.5</text>
<line x1="302.9" y1="474.50" x2="305.5" y2="474.50" stroke="#222" stroke-width="0.9"/>
<rect x="288.34" y="474.66" width="3.22" height="0.95" fill="#000"/>
<text x="292.22 295.44 297.13" y="476.75" font-size="5.51" fill="#000" stroke="#000" stroke-width="0.1">2.0</text>
<line x1="305.50" y1="474.5" x2="305.50" y2="477.1" stroke="#222" stroke-width="0.9"/>
<text transform="translate(292.89 484.85) scale(0.929 1)" font-size="5.51" fill="#000" stroke="#000" stroke-width="0.1">M</text>
<text transform="translate(297.31 484.85) scale(0.989 1)" font-size="5.51" fill="#000" stroke="#000" stroke-width="0.1">a</text>
<text x="300.55 303.50 305.19 308.47 311.75 315.02" y="484.85" font-size="5.51" fill="#000" stroke="#000" stroke-width="0.1">y 2025</text>
<line x1="336.00" y1="474.5" x2="336.00" y2="477.1" stroke="#222" stroke-width="0.9"/>
<text transform="translate(325.55 484.85) scale(0.529 1)" font-size="5.51" fill="#000" stroke="#000" stroke-width="0.1">J</text>
<text x="327.14 330.41 331.79 333.48 336.75 340.03 343.31" y="484.85" font-size="5.51" fill="#000" stroke="#000" stroke-width="0.1">ul 2025</text>
<line x1="367.00" y1="474.5" x2="367.00" y2="477.1" stroke="#222" stroke-width="0.9"/>
<text transform="translate(354.84 484.85) scale(0.854 1)" font-size="5.51" fill="#000" stroke="#000" stroke-width="0.1">S</text>
<text transform="translate(358.11 484.85) scale(0.993 1)" font-size="5.51" fill="#000" stroke="#000" stroke-width="0.1">e</text>
<text x="361.31 364.53 366.22 369.50 372.78 376.05" y="484.85" font-size="5.51" fill="#000" stroke="#000" stroke-width="0.1">p 2025</text>
<line x1="397.50" y1="474.5" x2="397.50" y2="477.1" stroke="#222" stroke-width="0.9"/>
<text transform="translate(385.18 484.85) scale(0.929 1)" font-size="5.51" fill="#000" stroke="#000" stroke-width="0.1">N</text>
<text transform="translate(389.02 484.85) scale(0.987 1)" font-size="5.51" fill="#000" stroke="#000" stroke-width="0.1">o</text>
<text x="392.25 395.21 396.90 400.17 403.45 406.73" y="484.85" font-size="5.51" fill="#000" stroke="#000" stroke-width="0.1">v 2025</text>
<line x1="428.00" y1="474.5" x2="428.00" y2="477.1" stroke="#222" stroke-width="0.9"/>
<text transform="translate(416.69 484.85) scale(0.529 1)" font-size="5.51" fill="#000" stroke="#000" stroke-width="0.1">J</text>
<text transform="translate(418.24 484.85) scale(0.989 1)" font-size="5.51" fill="#000" stroke="#000" stroke-width="0.1">a</text>
<text x="421.43 424.65 426.34 429.62 432.89 436.17" y="484.85" font-size="5.51" fill="#000" stroke="#000" stroke-width="0.1">n 2026</text>
<line x1="457.50" y1="474.5" x2="457.50" y2="477.1" stroke="#222" stroke-width="0.9"/>
<text transform="translate(445.36 484.85) scale(0.929 1)" font-size="5.51" fill="#000" stroke="#000" stroke-width="0.1">M</text>
<text transform="translate(449.78 484.85) scale(0.989 1)" font-size="5.51" fill="#000" stroke="#000" stroke-width="0.1">a</text>
<text x="453.01 455.04 456.73 460.01 463.28 466.56" y="484.85" font-size="5.51" fill="#000" stroke="#000" stroke-width="0.1">r 2026</text>
<line x1="488.00" y1="474.5" x2="488.00" y2="477.1" stroke="#222" stroke-width="0.9"/>
<text transform="translate(475.39 484.85) scale(0.929 1)" font-size="5.51" fill="#000" stroke="#000" stroke-width="0.1">M</text>
<text transform="translate(479.81 484.85) scale(0.989 1)" font-size="5.51" fill="#000" stroke="#000" stroke-width="0.1">a</text>
<text x="483.05 486.00 487.69 490.97 494.25 497.52" y="484.85" font-size="5.51" fill="#000" stroke="#000" stroke-width="0.1">y 2026</text>
<text transform="translate(81.69 351.60) scale(0.952 1)" font-size="10.97" fill="#000" stroke="#000" stroke-width="0.12">I</text>
<text transform="translate(97.82 351.60) scale(0.908 1)" font-size="10.97" fill="#000" stroke="#000" stroke-width="0.12">O</text>
<text transform="translate(105.84 351.60) scale(0.987 1)" font-size="10.97" fill="#000" stroke="#000" stroke-width="0.12">c</text>
<text transform="translate(111.56 351.60) scale(0.940 1)" font-size="10.97" fill="#000" stroke="#000" stroke-width="0.12">W</text>
<text transform="translate(124.88 351.60) scale(0.854 1)" font-size="10.97" fill="#000" stroke="#000" stroke-width="0.12">S</text>
<text transform="translate(131.39 351.60) scale(0.854 1)" font-size="10.97" fill="#000" stroke="#000" stroke-width="0.12">S</text>
<text transform="translate(137.89 351.60) scale(0.897 1)" font-size="10.97" fill="#000" stroke="#000" stroke-width="0.12">T</text>
<text transform="translate(147.41 351.60) scale(0.989 1)" font-size="10.97" fill="#000" stroke="#000" stroke-width="0.12">a</text>
<text transform="translate(160.19 351.60) scale(0.987 1)" font-size="10.97" fill="#000" stroke="#000" stroke-width="0.12">o</text>
<text transform="translate(176.44 351.60) scale(0.989 1)" font-size="10.97" fill="#000" stroke="#000" stroke-width="0.12">a</text>
<text transform="translate(201.40 351.60) scale(0.993 1)" font-size="10.97" fill="#000" stroke="#000" stroke-width="0.12">e</text>
<text transform="translate(211.91 351.60) scale(0.987 1)" font-size="10.97" fill="#000" stroke="#000" stroke-width="0.12">c</text>
<text transform="translate(217.33 351.60) scale(0.993 1)" font-size="10.97" fill="#000" stroke="#000" stroke-width="0.12">e</text>
<text transform="translate(239.85 351.60) scale(0.993 1)" font-size="10.97" fill="#000" stroke="#000" stroke-width="0.12">e</text>
<text transform="translate(246.14 351.60) scale(0.935 1)" font-size="10.97" fill="#000" stroke="#000" stroke-width="0.12">s</text>
<text x="84.85 91.35 121.60 144.13 153.76 166.76 182.80 185.74 191.62 194.97 207.86 223.71 230.50 234.23 237.08" y="351.60" font-size="10.97" fill="#000" stroke="#000" stroke-width="0.12">nd  nmly prntil</text>
<text transform="translate(321.52 351.60) scale(0.952 1)" font-size="10.97" fill="#000" stroke="#000" stroke-width="0.12">I</text>
<text transform="translate(337.65 351.60) scale(0.908 1)" font-size="10.97" fill="#000" stroke="#000" stroke-width="0.12">O</text>
<text transform="translate(345.66 351.60) scale(0.987 1)" font-size="10.97" fill="#000" stroke="#000" stroke-width="0.12">c</text>
<text transform="translate(351.32 351.60) scale(0.850 1)" font-size="10.97" fill="#000" stroke="#000" stroke-width="0.12">E</text>
<text transform="translate(361.05 351.60) scale(0.854 1)" font-size="10.97" fill="#000" stroke="#000" stroke-width="0.12">S</text>
<text transform="translate(367.56 351.60) scale(0.854 1)" font-size="10.97" fill="#000" stroke="#000" stroke-width="0.12">S</text>
<text transform="translate(374.06 351.60) scale(0.897 1)" font-size="10.97" fill="#000" stroke="#000" stroke-width="0.12">T</text>
<text transform="translate(383.58 351.60) scale(0.989 1)" font-size="10.97" fill="#000" stroke="#000" stroke-width="0.12">a</text>
<text transform="translate(396.36 351.60) scale(0.987 1)" font-size="10.97" fill="#000" stroke="#000" stroke-width="0.12">o</text>
<text transform="translate(412.61 351.60) scale(0.989 1)" font-size="10.97" fill="#000" stroke="#000" stroke-width="0.12">a</text>
<text transform="translate(437.57 351.60) scale(0.993 1)" font-size="10.97" fill="#000" stroke="#000" stroke-width="0.12">e</text>
<text transform="translate(448.08 351.60) scale(0.987 1)" font-size="10.97" fill="#000" stroke="#000" stroke-width="0.12">c</text>
<text transform="translate(453.50 351.60) scale(0.993 1)" font-size="10.97" fill="#000" stroke="#000" stroke-width="0.12">e</text>
<text transform="translate(476.02 351.60) scale(0.993 1)" font-size="10.97" fill="#000" stroke="#000" stroke-width="0.12">e</text>
<text transform="translate(482.31 351.60) scale(0.935 1)" font-size="10.97" fill="#000" stroke="#000" stroke-width="0.12">s</text>
<text x="324.68 331.18 357.77 380.30 389.93 402.93 418.97 421.91 427.79 431.14 444.03 459.88 466.67 470.41 473.25" y="351.60" font-size="10.97" fill="#000" stroke="#000" stroke-width="0.12">nd  nmly prntil</text>
<g transform="rotate(-90 44.2 415.5)"><text transform="translate(8.26 415.50) scale(0.920 1)" font-size="9.20" fill="#000" stroke="#000" stroke-width="0.12">A</text><text transform="translate(19.58 415.50) scale(0.987 1)" font-size="9.20" fill="#000" stroke="#000" stroke-width="0.12">o</text><text transform="translate(33.22 415.50) scale(0.989 1)" font-size="9.20" fill="#000" stroke="#000" stroke-width="0.12">a</text><text transform="translate(57.52 415.50) scale(0.993 1)" font-size="9.20" fill="#000" stroke="#000" stroke-width="0.12">e</text><text transform="translate(71.02 415.50) scale(0.867 1)" font-size="9.20" fill="#000" stroke="#000" stroke-width="0.12">C</text><text x="14.19 25.09 38.56 41.02 45.95 48.74 52.12 62.87 68.25 77.05" y="415.50" font-size="9.20" fill="#000" stroke="#000" stroke-width="0.12">nmly (dg )</text></g>
<g transform="rotate(-90 282.2 415.5)"><text transform="translate(246.26 415.50) scale(0.920 1)" font-size="9.20" fill="#000" stroke="#000" stroke-width="0.12">A</text><text transform="translate(257.58 415.50) scale(0.987 1)" font-size="9.20" fill="#000" stroke="#000" stroke-width="0.12">o</text><text transform="translate(271.22 415.50) scale(0.989 1)" font-size="9.20" fill="#000" stroke="#000" stroke-width="0.12">a</text><text transform="translate(295.52 415.50) scale(0.993 1)" font-size="9.20" fill="#000" stroke="#000" stroke-width="0.12">e</text><text transform="translate(309.02 415.50) scale(0.867 1)" font-size="9.20" fill="#000" stroke="#000" stroke-width="0.12">C</text><text x="252.19 263.09 276.56 279.02 283.95 286.74 290.12 300.87 306.25 315.05" y="415.50" font-size="9.20" fill="#000" stroke="#000" stroke-width="0.12">nmly (dg )</text></g>
</svg>
</body></html>
